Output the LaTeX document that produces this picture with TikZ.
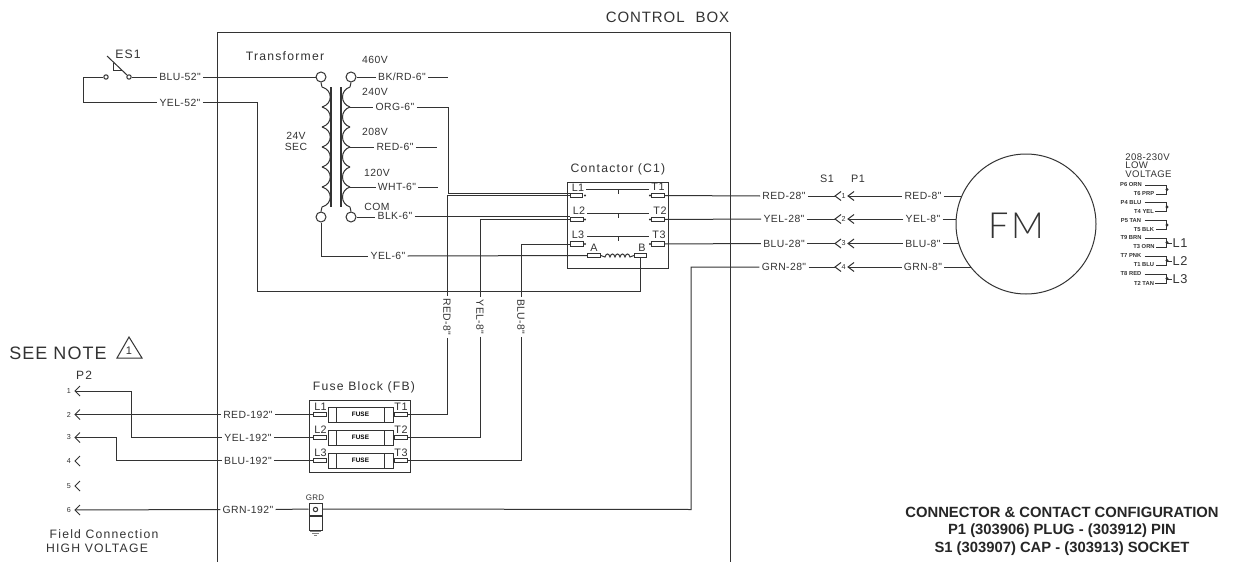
\documentclass[tikz,border=0pt]{standalone}
\usepackage{fontspec}
\setmainfont{Liberation Sans}
\newfontfamily\cad[LetterSpace=4]{Liberation Sans}
\newfontfamily\cadttl[LetterSpace=10]{Liberation Sans}
\newfontfamily\cadwide[LetterSpace=6]{Liberation Sans}
\newfontfamily\fmfont[LetterSpace=8]{Lato Light}
\definecolor{ink}{gray}{0.2}
\tikzset{
  wire/.style={draw=ink,line width=.5pt},
  lab/.style={font=\cad\fontsize{5.2}{5.5}\selectfont,inner sep=1pt,text=ink},
  ttl/.style={font=\cadttl\fontsize{6.1}{6.5}\selectfont,inner sep=0pt,text=ink},
  pin/.style={font=\cad\fontsize{5.4}{6}\selectfont,inner sep=0pt,text=ink},
  tiny/.style={font=\bfseries\fontsize{2.9}{3.4}\selectfont,inner sep=0pt,text=ink},
  num/.style={font=\cad\fontsize{3.6}{4}\selectfont,inner sep=0pt,text=ink},
  big/.style={font=\cadwide\fontsize{7.5}{9}\selectfont,inner sep=0pt,text=ink},
  term/.style={draw=ink,line width=.5pt,rectangle,minimum width=6.2pt,minimum height=2.4pt,inner sep=0pt},
  ring/.style={draw=ink,line width=.5pt,circle,minimum size=5pt,inner sep=0pt},
  contact/.style={draw=ink,line width=.5pt,circle,minimum size=2.2pt,inner sep=0pt},
  fuse/.style={draw=ink,line width=.5pt,rectangle,minimum width=32.5pt,minimum height=7.5pt,inner sep=0pt,font=\bfseries\fontsize{3.2}{4}\selectfont},
  frame/.style={draw=ink,line width=.5pt},
  note/.style={font=\bfseries\fontsize{7.4}{8}\selectfont,inner sep=0pt,text=black!85}
}
\begin{document}
\begin{tikzpicture}[x=.5pt,y=-.5pt]
\useasboundingbox (0,0) rectangle (1260,562);
\fill[white] (0,0) rectangle (1260,562);

% control box
\coordinate (boxBL) at (217,562); \coordinate (boxTL) at (217,32);
\coordinate (boxTR) at (730,32);  \coordinate (boxBR) at (730,562);
\draw[frame] (boxBL) -- (boxTL) -- (boxTR) -- (boxBR);
\node[big] (ctl) at (667.5,17) {CONTROL\hspace{3pt} BOX};

% ES1 switch
\node[contact] (es1) at (106,77) {};
\node[contact] (es2) at (129,77) {};
\node[ttl] (eslab) at (128,54) {ES1};
\draw[wire] (107,56) -- (127,75);
\draw[wire] (113,63) -- (113,70) -- (122,70);
\node[lab] (blu52) at (180,77) {BLU-52"};
\node[lab] (yel52) at (180,102.5) {YEL-52"};
\coordinate (la) at (83,77); \coordinate (lb) at (83,102.5);
\draw[wire] (es1.west) -- (la) -- (lb) -- (yel52.west);
\draw[wire] (es2.east) -- (blu52.west);

% transformer
\node[ring] (tp1) at (321,77) {};
\node[ring] (sp1) at (351,77) {};
\node[ring] (tp2) at (321,217) {};
\node[ring] (sp2) at (351,217) {};
\draw[wire,line width=.6pt] (331,87) -- (331,207);
\draw[wire,line width=.6pt] (341,87) -- (341,207);
\draw[wire] (tp1.south) .. controls (321,84) and (322,85) .. (322,87);
\draw[wire] (sp1.south) .. controls (351,84) and (350,85) .. (350,87);
\foreach \y in {87,107,127,147,167,187}{
  \draw[wire] (322,\y) .. controls (333,\y+3) and (333,\y+17) .. (322,\y+20);
  \draw[wire] (350,\y) .. controls (340,\y+3) and (340,\y+17) .. (350,\y+20);
}
\draw[wire] (322,207) -- (tp2.north);
\draw[wire] (350,207) -- (sp2.north);
\node[ttl] (trans) at (285,56) {Transformer};
\node[lab,inner sep=0pt,align=center] (sec) at (296,141.5) {24V\\SEC};
\node[lab,inner sep=0pt] (v460) at (375,60) {460V};
\node[lab,inner sep=0pt] (v240) at (375,92) {240V};
\node[lab,inner sep=0pt] (v208) at (375,132) {208V};
\node[lab,inner sep=0pt] (v120) at (377,173) {120V};
\node[lab,inner sep=0pt] (vcom) at (377,207) {COM};
\node[lab] (bk) at (402,77) {BK/RD-6"};
\node[lab] (org) at (395,107) {ORG-6"};
\node[lab] (red6) at (395,147) {RED-6"};
\node[lab] (wht) at (397,187) {WHT-6"};
\node[lab] (blk) at (395,216) {BLK-6"};
\node[lab] (yel6) at (388,256) {YEL-6"};
\coordinate (s240) at (350,107); \coordinate (s208) at (350,147); \coordinate (s120) at (350,187);
\coordinate (bkEnd) at (448,77); \coordinate (redEnd) at (437,147); \coordinate (whtEnd) at (438,187);
\draw[wire] (sp1.east) -- (bk.west);
\draw[wire] (bk.east) -- (bkEnd);
\draw[wire] (s240) -- (org.west);
\draw[wire] (s208) -- (red6.west);
\draw[wire] (red6.east) -- (redEnd);
\draw[wire] (s120) -- (wht.west);
\draw[wire] (wht.east) -- (whtEnd);
\draw[wire] (sp2.east) -- (sp2.east -| blk.west);
\draw[wire] (blu52.east) -- (tp1.west);

% contactor
\draw[frame] (567,182) rectangle (668,268);
\node[ttl] (cont) at (618,169) {Contactor (C1)};
\node[term] (cl1) at (576.5,195.5) {};
\node[term] (cl2) at (577,219.5) {};
\node[term] (cl3) at (577,244) {};
\node[term] (ct1) at (658,195.5) {};
\node[term] (ct2) at (658,219.5) {};
\node[term] (ct3) at (658,244) {};
\node[term] (coilA) at (594,255.5) {};
\node[term] (coilB) at (640.5,255.5) {};
\foreach \n/\x/\y/\t in {a/578/188/L1,b/579/211/L2,c/578/235/L3,d/658/187/T1,e/660/211/T2,f/659/235/T3,g/594/248/A,h/642/248/B}
  \node[pin] (ctxt\n) at (\x,\y) {\t};
\foreach \x/\y in {585/195.5,585/219.5,585/244,650/195.5,650/219.5,650/244}
  \fill[ink] (\x,\y) circle[radius=1.1];
\foreach \y/\xa in {189/586,213/587,236/587}{
  \draw[wire] (\xa,\y) -- (649,\y);
  \draw[wire] (618,\y) -- (618,\y+5);
}
\draw[wire] (coilA.east) -- (605,257) .. controls (606,253) and (609,253) .. (610,257)
  .. controls (611,253) and (614,253) .. (615,257) .. controls (616,253) and (619,253) .. (620,257)
  .. controls (621,253) and (624,253) .. (625,257) .. controls (626,253) and (629,253) .. (630,257) -- (coilB.west);

% secondary wires into contactor
\coordinate (orgA) at (448,107); \coordinate (orgB) at (448,193);
\draw[wire] (org.east) -- (orgA) -- (orgB) -- (orgB -| cl1.west);
\draw[wire] (blk.east) -- (blk.east -| cl2.west);
\coordinate (y6) at (321,256);
\draw[wire] (tp2.south) -- (y6) -- (yel6.west);
\draw[wire] (yel6.east) -- (coilA.west);

% YEL-52 return
\coordinate (ya) at (257,102.5); \coordinate (yb) at (257,291); \coordinate (yc) at (640.5,291);
\draw[wire] (yel52.east) -- (ya) -- (yb) -- (yc) -- (coilB.south);

% fuse block
\draw[frame] (309,400) rectangle (410,472);
\node[ttl] (fb) at (364,387) {Fuse Block (FB)};
\node[fuse] (f1) at (360.5,414.5) {FUSE};
\node[fuse] (f2) at (360.5,437.5) {FUSE};
\node[fuse] (f3) at (360.5,460.5) {FUSE};
\foreach \n in {1,2,3}{
  \draw[wire] ([xshift=4.5pt]f\n.south west) -- ([xshift=4.5pt]f\n.north west);
  \draw[wire] ([xshift=-4.5pt]f\n.south east) -- ([xshift=-4.5pt]f\n.north east);
  \node[term] (fl\n) at (320,{391.5+23*\n}) {};
  \node[term] (ft\n) at (401,{391.5+23*\n}) {};
  \node[pin] (flt\n) at (320.5,{384+23*\n}) {L\n};
  \node[pin] (ftt\n) at (401,{384+23*\n}) {T\n};
}

% rotated wires from fuse block to contactor
\node[lab,rotate=-90] (r8) at (447,317) {RED-8"};
\node[lab,rotate=-90] (y8) at (480,317) {YEL-8"};
\node[lab,rotate=-90] (b8) at (521,317) {BLU-8"};
\coordinate (rTop) at (447,195.5); \coordinate (rBot) at (447,414.5);
\coordinate (yTop) at (480,219.5); \coordinate (yBot) at (480,437.5);
\coordinate (bTop) at (521,244);   \coordinate (bBot) at (521,460.5);
\draw[wire] (cl1.west) -- (rTop) -- (r8.west);
\draw[wire] (r8.east) -- (rBot) -- (ft1.east);
\draw[wire] (cl2.west) -- (yTop) -- (y8.west);
\draw[wire] (y8.east) -- (yBot) -- (ft2.east);
\draw[wire] (cl3.west) -- (bTop) -- (b8.west);
\draw[wire] (b8.east) -- (bBot) -- (ft3.east);

% field side
\node[lab] (r192) at (248,414.5) {RED-192"};
\node[lab] (y192) at (248,437.5) {YEL-192"};
\node[lab] (b192) at (248,460.5) {BLU-192"};
\node[lab] (g192) at (248,509.5) {GRN-192"};
\draw[wire] (r192.east) -- (fl1.west);
\draw[wire] (y192.east) -- (fl2.west);
\draw[wire] (b192.east) -- (fl3.west);
\foreach \i/\y in {1/391,2/414.5,3/437.5,4/461,5/486,6/510}{
  \node[num] (pn\i) at (69,\y) {\i};
  \coordinate (pt\i) at (75,\y);
  \draw[wire] (80,\y-5) -- (pt\i) -- (80,\y+5);
}
\coordinate (a1) at (131,391); \coordinate (a2) at (131,437.5);
\coordinate (w3a) at (116,437.5); \coordinate (w3b) at (116,460.5);
\draw[wire] (pt1) -- (a1) -- (a2) -- (y192.west);
\draw[wire] (pt2) -- (r192.west);
\draw[wire] (pt3) -- (w3a) -- (w3b) -- (b192.west);
\draw[wire] (pt6) -- (g192.west);
\node[pin,font=\cadttl\fontsize{6}{7}\selectfont] (p2) at (84,375) {P2};
\node[big,font=\cadwide\fontsize{9}{10}\selectfont] (see) at (58,353) {SEE NOTE};
\node[inner sep=0pt,text=ink,font=\fontsize{5.5}{6}\selectfont] (notenum) at (129,351) {1};
\draw[wire] (129,337) -- (117,358) -- (142,358) -- cycle;
\node[ttl] (fc) at (104,534) {Field Connection};
\node[ttl] (hv) at (97,548) {HIGH VOLTAGE};

% ground
\node[draw=ink,line width=.5pt,rectangle,minimum width=6.5pt,minimum height=6pt,inner sep=0pt] (grd) at (315.5,509) {};
\node[draw=ink,line width=.5pt,rectangle,minimum width=6.5pt,minimum height=7pt,inner sep=0pt,anchor=north] (grd2) at (grd.south) {};
\node[contact] (grdc) at (315.5,509.5) {};
\node[font=\cad\fontsize{4}{5}\selectfont,inner sep=0pt,text=ink] (grdt) at (315,498) {GRD};
\draw[wire] (g192.east) -- (grd.west);
\draw[wire,gray] (310,531) -- (321,531);
\draw[wire,gray] (312,533) -- (319,533);
\draw[wire,gray] (314,535) -- (317,535);
\coordinate (ga) at (691,267); \coordinate (gb) at (691,509.5);

% fan motor
\node[draw=ink,line width=.5pt,circle,minimum size=70pt,inner sep=0pt] (fm) at (1026,224) {};
\node[font=\fmfont\fontsize{18}{20}\selectfont,inner sep=0pt,text=ink] (fmt) at (1016,226) {FM};
\node[pin] (s1t) at (827,179) {S1};
\node[pin] (p1t) at (858,179) {P1};
\foreach \i/\y/\c/\w in {1/196/RED/962,2/219/YEL/956,3/243.5/BLU/959,4/267/GRN/971}{
  \node[lab] (l\i) at (784,\y) {\c-28"};
  \node[lab] (m\i) at (923,\y) {\c-8"};
  \node[num] (n\i) at (843.5,\y) {\i};
  \coordinate (st\i) at (835,\y);
  \coordinate (pc\i) at (848,\y);
  \coordinate (fw\i) at (\w,\y);
  \draw[wire] (841,\y-4.5) -- (st\i) -- (841,\y+4.5);
  \draw[wire] (854,\y-4.5) -- (pc\i) -- (854,\y+4.5);
  \draw[wire] (l\i.east) -- (st\i);
  \draw[wire] (m\i.west) -- (pc\i);
  \draw[wire] (m\i.east) -- (fw\i);
}
\draw[wire] (ct1.east) -- (l1.west);
\draw[wire] (ct2.east) -- (l2.west);
\draw[wire] (ct3.east) -- (l3.west);
\draw[wire] (l4.west) -- (ga) -- (gb) -- (grd.east);

% motor lead table
\node[lab,font=\cad\fontsize{4.8}{4.4}\selectfont,inner sep=0pt,align=left,anchor=north west] (volt) at (1125,153) {208-230V\\LOW\\VOLTAGE};
\foreach \i/\a/\b/\ya/\yb in {1/P6 ORN/T6 PRP/185/194,2/P4 BLU/T4 YEL/202.5/211.5,3/P5 TAN/T5 BLK/220.5/229.5,4/T9 BRN/T3 ORN/238/247,5/T7 PNK/T1 BLU/256/265,6/T8 RED/T2 TAN/274/283}{
  \node[tiny] (ma\i) at (1131,\ya) {\a};
  \node[tiny] (mb\i) at (1144,\yb) {\b};
  \coordinate (mt\i) at (1166.5,\ya);
  \coordinate (mu\i) at (1166.5,\yb);
  \draw[wire] ([xshift=1.5pt]ma\i.east) -- (mt\i) -- (mu\i) -- ([xshift=.5pt]mb\i.east);
  \fill[ink] (1167,{(\ya+\yb)/2}) circle[radius=1.6];
}
\foreach \i/\n/\y in {4/L1/243,5/L2/261.5,6/L3/279.5}{
  \node[pin,font=\cad\fontsize{6.4}{7}\selectfont] (ll\n) at (1180,\y) {\n};
  \coordinate (lj\n) at (1167,\y);
  \draw[wire] (lj\n) -- (ll\n.west);
}

% note
\node[note] (n1) at (1062,512) {CONNECTOR \& CONTACT CONFIGURATION};
\node[note] (n2) at (1062,530.5) {P1 (303906) PLUG - (303912) PIN};
\node[note] (n3) at (1062,549) {S1 (303907) CAP - (303913) SOCKET};
\end{tikzpicture}
\end{document}
